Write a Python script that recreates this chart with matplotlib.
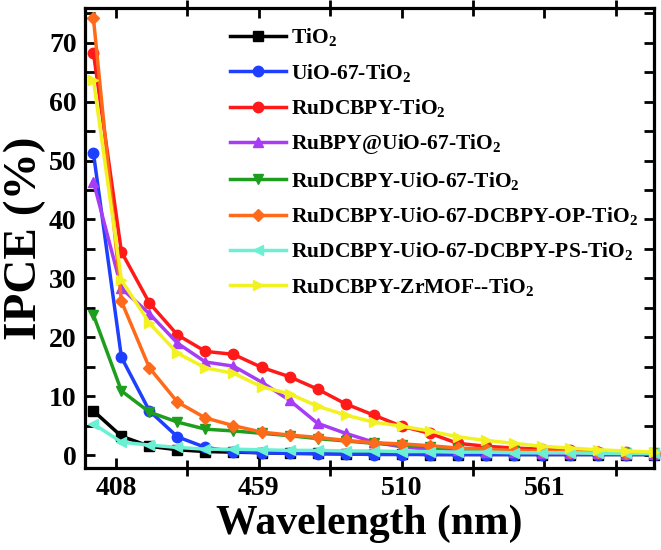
import matplotlib
matplotlib.use("Agg")
import matplotlib.pyplot as plt
from matplotlib.ticker import FixedLocator

plt.rcParams['font.family'] = 'Liberation Serif'
plt.rcParams['font.weight'] = 'bold'
plt.rcParams['mathtext.fontset'] = 'custom'
plt.rcParams['mathtext.rm'] = 'Liberation Serif:bold'
plt.rcParams['mathtext.it'] = 'Liberation Serif:bold'
plt.rcParams['mathtext.bf'] = 'Liberation Serif:bold'

# wavelength (nm)
wavelength = list(range(400, 601, 10))

tio2 = [7.5, 3.2, 1.5, 0.9, 0.6, 0.5, 0.4, 0.3, 0.3, 0.2, 0.2,
        0.2, 0.1, 0.1, 0.1, 0.1, 0.1, 0.1, 0.1, 0.1, 0.1]
uio67 = [51.3, 16.6, 7.5, 3.1, 1.3, 0.6, 0.4, 0.3, 0.2, 0.2, 0.1,
         0.1, 0.1, 0.1, 0.1, 0.1, 0.1, 0.1, 0.1, 0.1, 0.1]
rudcbpy = [68.3, 34.5, 25.8, 20.4, 17.6, 17.1, 14.9, 13.3, 11.2, 8.7, 6.8,
           4.9, 3.7, 2.0, 1.5, 1.2, 1.0, 0.8, 0.6, 0.5, 0.3]
rubpy_uio = [46.4, 28.3, 24.0, 19.0, 15.8, 15.1, 12.4, 9.3, 5.4, 3.7, 2.2,
             1.4, 1.0, 0.8, 0.6, 0.5, 0.4, 0.3, 0.3, 0.2, 0.2]
rudcbpy_uio = [23.8, 10.9, 7.3, 5.6, 4.4, 4.1, 3.7, 3.3, 2.8, 2.4, 2.0,
               1.7, 1.4, 1.1, 0.9, 0.7, 0.6, 0.5, 0.4, 0.3, 0.3]
op = [74.2, 26.1, 14.8, 9.0, 6.3, 5.0, 3.9, 3.4, 3.0, 2.5, 2.1,
      1.9, 1.6, 1.2, 1.0, 0.8, 0.7, 0.6, 0.5, 0.4, 0.3]
ps = [5.3, 2.2, 1.7, 1.3, 1.0, 1.0, 0.9, 0.8, 0.8, 0.7, 0.7,
      0.6, 0.6, 0.5, 0.5, 0.4, 0.4, 0.4, 0.3, 0.3, 0.3]
zrmof = [63.7, 29.7, 22.4, 17.3, 14.8, 13.9, 11.6, 10.4, 8.3, 6.8, 5.6,
         4.9, 4.1, 3.1, 2.5, 2.0, 1.5, 1.2, 0.9, 0.7, 0.5]

series = [
    (tio2, '#000000', 's', r'TiO$_2$'),
    (uio67, '#1f3fff', 'o', r'UiO-67-TiO$_2$'),
    (rudcbpy, '#ff1a1a', 'o', r'RuDCBPY-TiO$_2$'),
    (rubpy_uio, '#a83cf5', '^', r'RuBPY@UiO-67-TiO$_2$'),
    (rudcbpy_uio, '#1e9e1e', 'v', r'RuDCBPY-UiO-67-TiO$_2$'),
    (op, '#ff6a1a', 'D', r'RuDCBPY-UiO-67-DCBPY-OP-TiO$_2$'),
    (ps, '#6cf0d4', '<', r'RuDCBPY-UiO-67-DCBPY-PS-TiO$_2$'),
    (zrmof, '#f2f222', '>', r'RuDCBPY-ZrMOF--TiO$_2$'),
]

fig = plt.figure(figsize=(6.61, 5.50), dpi=100)
ax = fig.add_axes([0.1286, 0.149, 0.8604, 0.8365])

for data, color, marker, label in series:
    ms = 6 if marker == 'D' else 7.5
    ax.plot(wavelength, data, color=color, marker=marker, markersize=ms,
            linewidth=2.5, label=label, clip_on=False)

ax.set_xlim(397, 600)
ax.set_ylim(-2.2, 75.9)

ax.xaxis.set_major_locator(FixedLocator([408, 459, 510, 561]))
ax.xaxis.set_minor_locator(FixedLocator([433.5, 484.5, 535.5, 586.5]))
ax.yaxis.set_major_locator(FixedLocator(range(0, 71, 10)))
ax.yaxis.set_minor_locator(FixedLocator(range(5, 76, 10)))

ax.tick_params(which='major', direction='in', length=7, width=2,
               top=True, right=True, labelsize=20, pad=6)
ax.tick_params(axis='x', which='minor', direction='inout', length=12, width=2,
               top=True)
ax.tick_params(axis='y', which='minor', direction='in', length=7, width=2,
               right=True)
for lab in ax.get_xticklabels() + ax.get_yticklabels():
    lab.set_fontweight('bold')

for sp in ax.spines.values():
    sp.set_linewidth(2.3)

ax.set_xlabel('Wavelength (nm)', fontsize=30, fontweight='bold', labelpad=2)
ax.set_ylabel('IPCE (%)', fontsize=34, fontweight='bold', labelpad=2)

ax.legend(loc='upper left', bbox_to_anchor=(0.255, 0.96), frameon=False,
          fontsize=15.5, handlelength=2.6, handletextpad=0.25,
          labelspacing=0.62, borderaxespad=0, borderpad=0)

fig.savefig('out.png', dpi=100)
